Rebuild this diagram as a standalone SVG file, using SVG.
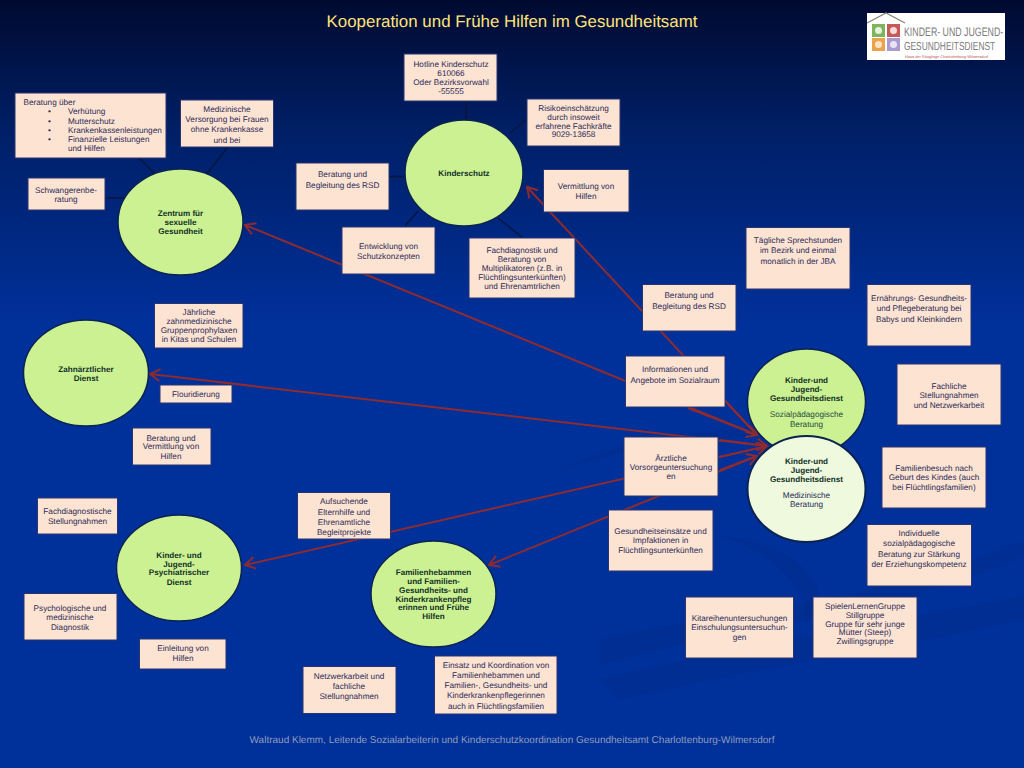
<svg xmlns="http://www.w3.org/2000/svg" width="1024" height="768" viewBox="0 0 1024 768">
<style>
.b{fill:#fde3d2;stroke:#2a3570;stroke-width:1}
.e{fill:#ccf192;stroke:#0c2350;stroke-width:1.5}
.p{fill:#eef9dd;stroke:#0c2350;stroke-width:2}
text{font-family:"Liberation Sans",Arial,sans-serif;font-size:8.200px;fill:#2b2b58;text-anchor:middle;text-rendering:geometricPrecision}
.h{font-weight:700;font-size:8.100px;fill:#123028}
.s{fill:#1f4a40}
.l{text-anchor:start}
.k{stroke:#08163f;stroke-width:1.5;fill:none}
.r{stroke:#8c2b30;stroke-width:2;fill:none}
.a{marker-end:url(#ah)}
#title{font-size:16.900px;fill:#ffe47a}
#footer{font-size:10px;fill:#8d9dbd}
.lg{fill:#7b7b7b;text-anchor:start}
</style>
<defs>
<linearGradient id="bg" x1="0" y1="0" x2="0" y2="1"><stop offset="0" stop-color="#000a30"/><stop offset="0.17" stop-color="#001f66"/><stop offset="0.42" stop-color="#00309a"/><stop offset="1" stop-color="#00309a"/></linearGradient>
<marker id="ah" markerUnits="userSpaceOnUse" markerWidth="16" markerHeight="16" refX="13" refY="8" orient="auto"><path d="M3 2 L13 8 L3 14" fill="none" stroke="#8c2b30" stroke-width="2"/></marker>
</defs>
<rect width="1024" height="768" fill="url(#bg)"/>
<g id="swoosh" fill="#00286f" fill-opacity="0.18">
<path d="M600 680 C760 640 900 620 1024 596 L1024 618 C900 650 760 665 620 700Z"/>
<path d="M600 640 C720 610 860 610 1024 540 L1024 555 C870 625 730 625 600 665Z"/>
<path d="M720 535 C780 545 815 565 820 600 L805 625 C810 580 770 555 720 535Z"/>
<path d="M560 470 C640 430 760 420 850 440 C770 430 650 440 560 470Z"/>
</g>
<text id="title" x="512" y="27">Kooperation und Frühe Hilfen im Gesundheitsamt</text>
<g id="logo">
<rect x="867" y="13" width="138" height="47" fill="#fff"/>
<path d="M867 23 L886 13 L905 23" fill="none" stroke="#85856f" stroke-width="1.2"/>
<rect x="872" y="24" width="13" height="13" fill="#7db55c"/><rect x="887" y="24" width="13" height="13" fill="#c65a5a"/>
<rect x="872" y="38" width="13" height="13" fill="#eda14c"/><rect x="887" y="38" width="13" height="13" fill="#a99bd1"/>
<circle cx="878.500" cy="30.500" r="3.500" fill="#e9f0dc"/><circle cx="893.500" cy="30.500" r="3.500" fill="#f5dcd8"/><circle cx="878.500" cy="44.500" r="3.500" fill="#fbe3c6"/><circle cx="893.500" cy="44.500" r="3.500" fill="#e8e3f3"/>
<text class="lg" transform="translate(904,36) scale(1,1.400)" style="font-size:8.800px">KINDER- UND JUGEND-</text>
<text class="lg" transform="translate(904,50) scale(1,1.400)" style="font-size:8.400px">GESUNDHEITSDIENST</text>
<text x="905" y="58" style="font-size:3.900px;fill:#c0504d;text-anchor:start">Haus der Säuglinge Charlottenburg-Wilmersdorf</text>
</g>
<g id="connectors">
<path class="k" d="M139 158L158 177M227 148L205 176M105 198L126 198M466 101V120M527 119L510 133M389 176.500H405M405 226L418 211M498 218L523 238"/>
<path class="r a" d="M757 435L245 225"/>
<path class="r a" d="M757 435L527 187"/>
<path class="r a" d="M767 446L150 374"/>
<path class="r a" d="M767 446L245 565"/>
<path class="r a" d="M757 456L489 565"/>
<path class="r a" d="M688 408L757 435"/>
<path class="r a" d="M727 403L757 435"/>
<path class="r a" d="M720 440L767 446"/>
<path class="r a" d="M720 457L767 446"/>
<path class="r a" d="M720 470L757 456"/>
</g>
<g id="n-zentrum"><ellipse class="e" cx="180.500" cy="222" rx="62.500" ry="53"/><text class="h" x="180.500" y="216">Zentrum für</text><text class="h" x="180.500" y="225">sexuelle</text><text class="h" x="180.500" y="234">Gesundheit</text></g>
<g id="n-kinderschutz"><ellipse class="e" cx="464" cy="173" rx="59" ry="53"/><text class="h" x="464" y="176">Kinderschutz</text></g>
<g id="n-zahn"><ellipse class="e" cx="86" cy="373" rx="62.500" ry="53"/><text class="h" x="86" y="372">Zahnärztlicher</text><text class="h" x="86" y="381">Dienst</text></g>
<g id="n-kjpd"><ellipse class="e" cx="179" cy="568" rx="62.500" ry="53"/><text class="h" x="179" y="558">Kinder- und</text><text class="h" x="179" y="567">Jugend-</text><text class="h" x="179" y="575">Psychiatrischer</text><text class="h" x="179" y="585">Dienst</text></g>
<g id="n-fam"><ellipse class="e" cx="433.500" cy="594" rx="62.500" ry="53"/><text class="h" x="433.500" y="575">Familienhebammen</text><text class="h" x="433.500" y="584">und Familien-</text><text class="h" x="433.500" y="593">Gesundheits- und</text><text class="h" x="433.500" y="602">Kinderkrankenpfleg</text><text class="h" x="433.500" y="610">erinnen und Frühe</text><text class="h" x="433.500" y="619">Hilfen</text></g>
<g id="n-kjgd-s"><ellipse class="e" cx="806.500" cy="402" rx="59" ry="53"/><text class="h" x="806.500" y="383">Kinder-und</text><text class="h" x="806.500" y="392">Jugend-</text><text class="h" x="806.500" y="401">Gesundheitsdienst</text><text class="s" x="806.500" y="417">Sozialpädagogische</text><text class="s" x="806.500" y="427">Beratung</text></g>
<g id="n-kjgd-m"><ellipse class="p" cx="806.500" cy="489" rx="59" ry="53"/><text class="h" x="806.500" y="464">Kinder-und</text><text class="h" x="806.500" y="473">Jugend-</text><text class="h" x="806.500" y="482">Gesundheitsdienst</text><text x="806.500" y="498">Medizinische</text><text x="806.500" y="507">Beratung</text></g>
<g id="b1"><rect class="b" x="15" y="93" width="151" height="65"/><text class="l" x="23.500" y="105">Beratung über</text><text class="l" x="48" y="114">•</text><text class="l" x="68" y="114">Verhütung</text><text class="l" x="48" y="124">•</text><text class="l" x="68" y="124">Mutterschutz</text><text class="l" x="48" y="133">•</text><text class="l" x="68" y="133">Krankenkassenleistungen</text><text class="l" x="48" y="142">•</text><text class="l" x="68" y="142">Finanzielle Leistungen</text><text class="l" x="68" y="151">und Hilfen</text></g>
<g id="b2"><rect class="b" x="180.500" y="100" width="93" height="47"/><text x="227" y="112">Medizinische</text><text x="227" y="122">Versorgung bei Frauen</text><text x="227" y="132">ohne Krankenkasse</text><text x="227" y="143">und bei</text></g>
<g id="b3"><rect class="b" x="28" y="178" width="77" height="32"/><text x="66" y="193">Schwangerenbe-</text><text x="66" y="202">ratung</text></g>
<g id="b4"><rect class="b" x="404" y="54" width="93" height="47"/><text x="451" y="67">Hotline Kinderschutz</text><text x="451" y="76">610066</text><text x="451" y="85">Oder Bezirksvorwahl</text><text x="451" y="94">-55555</text></g>
<g id="b5"><rect class="b" x="527" y="99" width="93" height="47"/><text x="573.500" y="111">Risikoeinschätzung</text><text x="573.500" y="120">durch insoweit</text><text x="573.500" y="129">erfahrene Fachkräfte</text><text x="573.500" y="137">9029-13658</text></g>
<g id="b6"><rect class="b" x="296" y="163" width="93" height="47"/><text x="342.500" y="177">Beratung und</text><text x="342.500" y="188">Begleitung des RSD</text></g>
<g id="b7"><rect class="b" x="543.500" y="169.500" width="85.500" height="42.500"/><text x="586" y="189">Vermittlung von</text><text x="586" y="199">Hilfen</text></g>
<g id="b8"><rect class="b" x="342" y="227" width="93" height="47"/><text x="388.500" y="249">Entwicklung von</text><text x="388.500" y="259">Schutzkonzepten</text></g>
<g id="b9"><rect class="b" x="469" y="238" width="106" height="60"/><text x="522" y="253">Fachdiagnostik und</text><text x="522" y="262">Beratung von</text><text x="522" y="271">Multiplikatoren (z.B. in</text><text x="522" y="280">Flüchtlingsunterkünften)</text><text x="522" y="289">und Ehrenamtrlichen</text></g>
<g id="b10"><rect class="b" x="746" y="227.500" width="104" height="61.500"/><text x="798" y="243">Tägliche Sprechstunden</text><text x="798" y="253">im Bezirk und einmal</text><text x="798" y="264">monatlich in der JBA</text></g>
<g id="b11"><rect class="b" x="642.500" y="284.500" width="93.500" height="46.500"/><text x="689" y="298">Beratung und</text><text x="689" y="309">Begleitung des RSD</text></g>
<g id="b12"><rect class="b" x="867" y="284.500" width="104" height="61.500"/><text x="919" y="301">Ernährungs- Gesundheits-</text><text x="919" y="311">und Pflegeberatung bei</text><text x="919" y="322">Babys und Kleinkindern</text></g>
<g id="b13"><rect class="b" x="625.500" y="356" width="99.500" height="51"/><text x="675" y="372">Informationen und</text><text x="675" y="383">Angebote im Sozialraum</text></g>
<g id="b14"><rect class="b" x="897" y="364" width="104" height="61"/><text x="949" y="389">Fachliche</text><text x="949" y="398">Stellungnahmen</text><text x="949" y="408">und Netzwerkarbeit</text></g>
<g id="b15"><rect class="b" x="624" y="437" width="94" height="59"/><text x="671" y="461">Ärztliche</text><text x="671" y="470">Vorsorgeuntersuchung</text><text x="671" y="479">en</text></g>
<g id="b16"><rect class="b" x="882" y="447" width="104" height="61"/><text x="934" y="471">Familienbesuch nach</text><text x="934" y="480">Geburt des Kindes (auch</text><text x="934" y="490">bei Flüchtlingsfamilien)</text></g>
<g id="b17"><rect class="b" x="608.500" y="510" width="104.500" height="61"/><text x="660.500" y="534">Gesundheitseinsätze und</text><text x="660.500" y="543">Impfaktionen in</text><text x="660.500" y="553">Flüchtlingsunterkünften</text></g>
<g id="b18"><rect class="b" x="867" y="524.500" width="104.500" height="61.500"/><text x="919" y="536">Individuelle</text><text x="919" y="546">sozialpädagogische</text><text x="919" y="557">Beratung zur Stärkung</text><text x="919" y="567">der Erziehungskompetenz</text></g>
<g id="b19"><rect class="b" x="685.500" y="597" width="108" height="61"/><text x="739.500" y="621">Kitareihenuntersuchungen</text><text x="739.500" y="630">Einschulungsuntersuchun-</text><text x="739.500" y="640">gen</text></g>
<g id="b20"><rect class="b" x="813" y="597" width="104" height="61"/><text x="865" y="609">SpielenLernenGruppe</text><text x="865" y="618">Stillgruppe</text><text x="865" y="627">Gruppe für sehr junge</text><text x="865" y="635">Mütter (Steep)</text><text x="865" y="644">Zwillingsgruppe</text></g>
<g id="b21"><rect class="b" x="297.500" y="492.500" width="93" height="46.500"/><text x="344" y="504">Aufsuchende</text><text x="344" y="515">Elternhilfe und</text><text x="344" y="525">Ehrenamtliche</text><text x="344" y="535">Begleitprojekte</text></g>
<g id="b22"><rect class="b" x="303" y="666.500" width="93" height="47"/><text x="349" y="679">Netzwerkarbeit und</text><text x="349" y="689">fachliche</text><text x="349" y="699">Stellungnahmen</text></g>
<g id="b23"><rect class="b" x="434.500" y="656" width="122.500" height="58"/><text x="496" y="668">Einsatz und Koordination von</text><text x="496" y="678">Familienhebammen und</text><text x="496" y="688">Familien-, Gesundheits- und</text><text x="496" y="698">Kinderkrankenpflegerinnen</text><text x="496" y="709">auch in Flüchtlingsfamilien</text></g>
<g id="b24"><rect class="b" x="154.500" y="303.500" width="88.500" height="44.500"/><text x="199" y="315">Jährliche</text><text x="199" y="324">zahnmedizinische</text><text x="199" y="333">Gruppenprophylaxen</text><text x="199" y="342">in Kitas und Schulen</text></g>
<g id="b25"><rect class="b" x="160" y="385" width="72" height="18"/><text x="196" y="397">Flouridierung</text></g>
<g id="b26"><rect class="b" x="132.500" y="428" width="78.500" height="37"/><text x="171" y="441">Beratung und</text><text x="171" y="449">Vermittlung von</text><text x="171" y="459">Hilfen</text></g>
<g id="b27"><rect class="b" x="37.500" y="498" width="80" height="36"/><text x="77.500" y="514">Fachdiagnostische</text><text x="77.500" y="524">Stellungnahmen</text></g>
<g id="b28"><rect class="b" x="24" y="593.500" width="93" height="46.500"/><text x="70" y="611">Psychologische und</text><text x="70" y="620">medizinische</text><text x="70" y="630">Diagnostik</text></g>
<g id="b29"><rect class="b" x="139.500" y="639" width="86.500" height="30"/><text x="183" y="651">Einleitung von</text><text x="183" y="661">Hilfen</text></g>
<text id="footer" x="512" y="743">Waltraud Klemm, Leitende Sozialarbeiterin und Kinderschutzkoordination Gesundheitsamt Charlottenburg-Wilmersdorf</text>
</svg>
